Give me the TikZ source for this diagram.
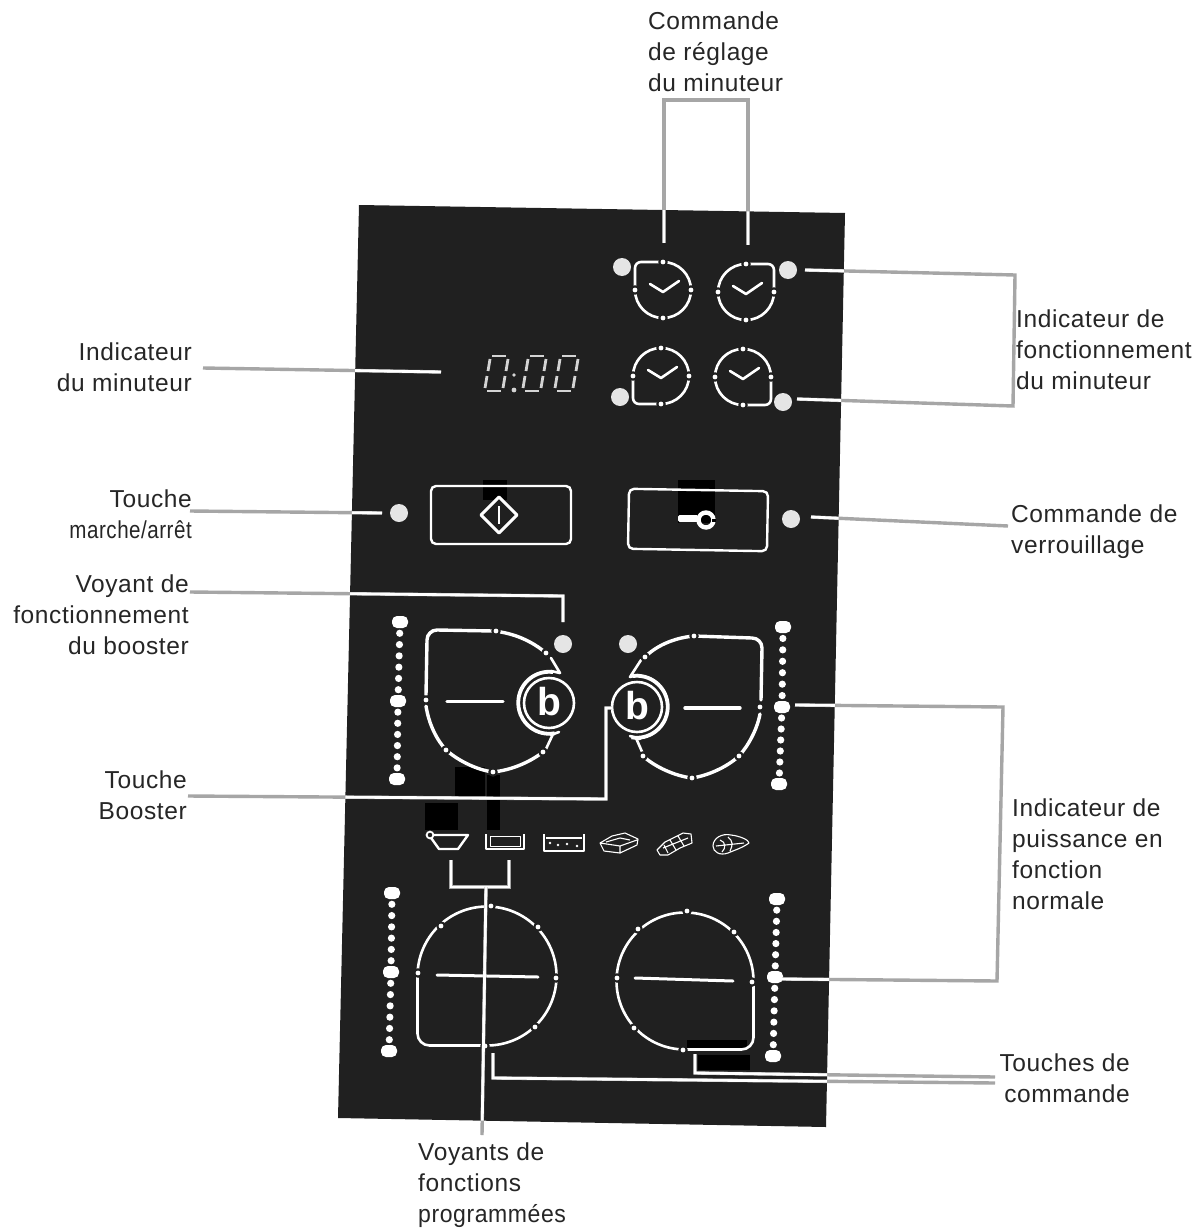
\documentclass[tikz,border=0pt]{standalone}
\usepackage{fontspec}
\setmainfont[LetterSpace=2.5]{Liberation Sans}
\usetikzlibrary{calc}
\definecolor{panelc}{HTML}{202020}
\definecolor{leadc}{HTML}{A6A6A6}
\definecolor{segc}{HTML}{D4D4D4}
\tikzset{
  leadg/.style={draw=leadc,line width=3.4pt},
  leadw/.style={draw=white,line width=2.8pt},
  ring/.style={draw=white,line width=2.6pt,line cap=round,line join=round},
  ringb/.style={draw=white,line width=3.4pt,line cap=round,line join=round},
  fine/.style={draw=white,line width=1.1pt,line join=round},
  seg/.style={draw=segc,line width=2.8pt},
  lamp/.style={circle,fill=white!90!black,draw=none,minimum size=18pt,inner sep=0pt},
  lab/.style={font=\fontsize{24.5}{31}\selectfont,inner sep=0pt,text=black!85},
  labL/.style={lab,align=left,anchor=north west},
  labR/.style={lab,align=right,anchor=north east},
}
\newcommand\panelpath{(359,205) -- (845,213) -- (826,1127) -- (338,1118) -- cycle}
\newcommand\leader[1]{\draw[leadg] #1; \begin{scope}\clip \panelpath; \draw[leadw] #1; \end{scope}}
\newcommand\tick[2]{\fill[panelc] (#1,#2) circle[radius=4.8]; \fill[white] (#1,#2) circle[radius=2.4];}
% corner zone: centre, R, corner radius, xscale, yscale (corner is at top-left locally)
\newcommand\zone[6]{\begin{scope}[shift={(#1,#2)},xscale=#5,yscale=#6]
  \draw[ring] (0,-#3) arc[start angle=270,end angle=540,radius=#3] -- (-#3,-#3+#4) arc[start angle=180,end angle=270,radius=#4] -- cycle;
\end{scope}}
\newcommand\dial[4]{\zone{#1}{#2}{28}{6}{#3}{#4}
  \tick{#1}{#2-28*#4}\tick{#1}{#2+28*#4}\tick{#1-28}{#2}\tick{#1+28}{#2}
  \draw[ring] (#1-13,#2-6) -- (#1,#2+2) -- (#1+16,#2-9);}
\newcommand\slider[6]{
  \coordinate (sa) at (#1,#2); \coordinate (sb) at (#3,#4); \coordinate (sc) at (#5,#6);
  \foreach \i in {1,...,6}{\fill[white] ($(sa)!\i/7!(sb)$) circle[radius=3.6]; \fill[white] ($(sb)!\i/7!(sc)$) circle[radius=3.6];}
  \foreach \p in {sa,sb,sc}{\fill[white,rounded corners=5pt] ($(\p)+(-8,-6)$) rectangle ($(\p)+(8,6)$);}
}
\newcommand\digit[1]{
  \draw[seg] (#1+5,359) -- (#1+3,371);
  \draw[seg] (#1+2,376) -- (#1,388);
  \draw[seg] (#1+7,356) -- (#1+21,356);
  \draw[seg] (#1+2,391) -- (#1+16,391);
  \draw[seg] (#1+23,359) -- (#1+21,371);
  \draw[seg] (#1+20,376) -- (#1+18,388);
}
\begin{document}
\begin{tikzpicture}[x=1pt,y=-1pt]
\useasboundingbox (0,0) rectangle (1193,1231);
\fill[white] (0,0) rectangle (1193,1231);
% panel
\fill[panelc] \panelpath;
% darker patches
\fill[black] (455,767) rectangle (485,797);
\fill[black] (425,803) rectangle (458,830);
\fill[black] (487,775) rectangle (500,830);
\fill[black] (678,480) rectangle (715,523);
\fill[black] (483,480) rectangle (507,500);
\fill[black] (687,1040) rectangle (747,1048);
\fill[black] (698,1055) rectangle (750,1070);

% labels
\node[labL] (lregl) at (648,12) {Commande\\de réglage\\du minuteur};
\node[labR] (lmin) at (192,343) {Indicateur\\du minuteur};
\node[labL] (lfct) at (1016,310) {Indicateur de\\fonctionnement\\du minuteur};
\node[labR] (lmarche) at (192,490) {Touche\hspace{6pt}\\\scalebox{.84}[1]{marche/arrêt}};
\node[labL] (lverr) at (1011,505) {Commande de\\verrouillage};
\node[labR] (lvoy) at (189,575) {Voyant de\\fonctionnement\\du booster};
\node[labR] (lboo) at (187,771) {Touche\\Booster};
\node[labL] (lpui) at (1012,799) {Indicateur de\\puissance en\\fonction\\normale};
\node[labR] (ltou) at (1130,1054) {Touches de\\commande};
\node[labL] (lprg) at (418,1143) {Voyants de\\fonctions\\\scalebox{.94}[1]{programmées}};

% lamps
\node[lamp] (d1) at (622,267) {};
\node[lamp] (d2) at (788,270) {};
\node[lamp] (d3) at (620,397) {};
\node[lamp] (d4) at (783,402) {};
\node[lamp] (d5) at (399,513) {};
\node[lamp] (d6) at (791,519) {};
\node[lamp] (d7) at (563,644) {};
\node[lamp] (d8) at (628,644) {};

% timer dials
\dial{663}{290}{1}{1}
\dial{746}{292}{-1}{1}
\dial{661}{376}{1}{-1}
\dial{743}{377}{-1}{-1}

% display 0:00
\digit{485}
\fill[segc] (514,375) circle[radius=1.8];
\fill[segc] (514,390) circle[radius=2.4];
\digit{523}
\digit{555}

% buttons
\node[draw=white,line width=2.4pt,rounded corners=5pt,minimum width=140pt,minimum height=58pt,inner sep=0pt] (bon) at (501,515) {};
\node[draw=white,line width=2.4pt,rounded corners=5pt,minimum width=139pt,minimum height=60pt,inner sep=0pt,rotate=-1] (bkey) at (698,520) {};
\draw[ring,line width=3pt] (499,497) -- (517,515) -- (499,533) -- (481,515) -- cycle;
\draw[draw=white,line width=2pt] (499,506) -- (499,524);
\fill[white,rounded corners=1.5pt] (678,515) rectangle (698,522);
\draw[draw=white,line width=4.4pt] (706,520) circle[radius=7.5];
\fill[black] (712,518.5) rectangle (716,521.5);

% booster zones, left
\draw[ringb] (426,695) -- (427,640) arc[start angle=180,end angle=270,radius=10] -- (493,631)
  .. controls (515,633) and (533,642) .. (546,653);
\draw[ringb] (426,706) .. controls (429,725) and (437,740) .. (446,750)
  .. controls (460,762) and (478,770) .. (493,772) .. controls (512,770) and (530,762) .. (543,752);
\fill[panelc] (549,703) circle[radius=35];
\draw[ring] (549,703) circle[radius=25];
\draw[white,line width=3.8pt] (553,672) arc[start angle=277,end angle=80,radius=31];
\draw[ring] (551,658) -- (560,673) -- (551,671);
\draw[ring] (559,732) -- (551,735) (553,734) -- (546,749);
\node[font=\fontsize{39}{39}\selectfont\bfseries,text=white,inner sep=0pt] (bl) at (549,702) {b};
\tick{426}{700}\tick{496}{631}\tick{546}{653}\tick{446}{750}\tick{493}{772}\tick{543}{752}
\draw[ringb] (447,701.5) -- (503,701.5);

% booster zones, right
\draw[ringb] (761,700) -- (762,648) arc[start angle=0,end angle=-90,radius=10] -- (694,636)
  .. controls (672,638) and (655,647) .. (645,657);
\draw[ringb] (760,714) .. controls (757,730) and (748,746) .. (739,756)
  .. controls (726,768) and (706,776) .. (692,778) .. controls (675,776) and (655,767) .. (643,756);
\fill[panelc] (637,707) circle[radius=35];
\draw[ring] (637,707) circle[radius=25];
\draw[white,line width=3.8pt] (633,676) arc[start angle=-97,end angle=100,radius=31];
\draw[ring] (641,660) -- (630,677) -- (638,675);
\draw[ring] (630,736) -- (640,739) (636,738) -- (643,754);
\node[font=\fontsize{39}{39}\selectfont\bfseries,text=white,inner sep=0pt] (br) at (637,706) {b};
\tick{694}{636}\tick{645}{657}\tick{760}{707}\tick{739}{756}\tick{692}{778}\tick{643}{756}
\draw[ringb] (685,708) -- (740,708);

% sliders
\slider{400}{622}{398}{701}{397}{779}
\slider{783}{627}{782}{707}{779}{784}
\slider{392}{893}{391}{972}{389}{1051}
\slider{777}{899}{775}{977}{773}{1056}

% bottom zones
\zone{487}{976}{69.5}{12}{1}{-1}
\draw[ring,line width=3pt] (437,975) -- (538,977);
\tick{491}{906}\tick{538}{927}\tick{556}{978}\tick{535}{1027}\tick{485}{1046}\tick{418}{973}\tick{441}{926}
\zone{685}{981}{68.5}{12}{-1}{-1}
\draw[ring,line width=3pt] (635,978) -- (733,981);
\tick{687}{911}\tick{638}{929}\tick{734}{932}\tick{752}{982}\tick{617}{978}\tick{634}{1028}\tick{683}{1050}

% icons
\draw[fine,line width=2.4pt] (429,835) -- (468,835) -- (458,849) -- (439,849) -- cycle;
\draw[white,line width=1.8pt,fill=panelc] (430,835) circle[radius=3.4];
\draw[fine,line width=1.6pt] (486,834) -- (486,849) -- (524,849) -- (524,834);
\draw[fine,line width=.7pt] (490,836) rectangle (520,846);
\draw[fine,line width=1.6pt] (544,834) -- (544,851) -- (584,851) -- (584,834) (546,838) -- (582,838);
\foreach \p in {(550,843),(558,845),(567,844),(577,846)}{\fill[white] \p circle[radius=1.4];}
\draw[fine] (600,843) -- (612,836) -- (625,833) -- (638,839) -- (637,845) -- (620,853) -- (604,851) -- cycle (600,843) -- (620,846) -- (637,840) (620,846) -- (620,853) (606,842) -- (620,838) -- (630,840);
\draw[fine] (657,850) -- (665,842) -- (683,833) -- (691,834) -- (692,843) -- (680,848) -- (668,855) -- (660,855) -- cycle (670,840) -- (676,850) (678,836) -- (684,846) (664,845) -- (668,853) (663,848) -- (688,838);
\draw[fine] (713,846) .. controls (713,838) and (722,833) .. (731,835) .. controls (740,836) and (749,840) .. (749,843) .. controls (742,848) and (735,850) .. (728,853) .. controls (720,856) and (713,852) .. (713,846) -- cycle (720,840) .. controls (726,842) and (726,848) .. (722,852) (728,837) .. controls (733,841) and (733,845) .. (730,851) (716,846) -- (744,843);

% leaders
\coordinate (t1) at (664,100); \coordinate (t2) at (748,100);
\coordinate (t1e) at (664,243); \coordinate (t2e) at (748,245);
\leader{(t1e) -- (t1) -- (t2) -- (t2e)}
\coordinate (r1) at (1015,275); \coordinate (r2) at (1013,406);
\leader{([xshift=17pt]d2.center) -- (r1) -- (r2) -- ([xshift=14pt,yshift=3pt]d4.center)}
\coordinate (m1) at (203,368); \coordinate (m2) at (441,372);
\leader{(m1) -- (m2)}
\coordinate (o1) at (190,511);
\leader{(o1) -- ([xshift=-17pt]d5.center)}
\coordinate (k1) at (1008,526);
\leader{([xshift=20pt,yshift=2pt]d6.center) -- (k1)}
\coordinate (v1) at (190,592); \coordinate (v2) at (563,596); \coordinate (v3) at (563,622);
\leader{(v1) -- (v2) -- (v3)}
\coordinate (b1) at (188,796); \coordinate (b2) at (606,799); \coordinate (b3) at (606,708); \coordinate (b4) at (612,708);
\leader{(b1) -- (b2) -- (b3) -- (b4)}
\coordinate (p0) at (795,705); \coordinate (p1) at (1003,707); \coordinate (p2) at (997,981); \coordinate (p3) at (782,979);
\leader{(p0) -- (p1) -- (p2) -- (p3)}
\coordinate (c0) at (695,1054); \coordinate (c1) at (695,1073); \coordinate (c2) at (995,1077);
\leader{(c0) -- (c1) -- (c2)}
\coordinate (e0) at (493,1053); \coordinate (e1) at (493,1078); \coordinate (e2) at (995,1083);
\leader{(e0) -- (e1) -- (e2)}
\coordinate (f0) at (451,860); \coordinate (f1) at (451,887); \coordinate (f2) at (509,887); \coordinate (f3) at (509,860);
\leader{(f0) -- (f1) -- (f2) -- (f3)}
\coordinate (g0) at (486,887); \coordinate (g1) at (482,1135);
\leader{(g0) -- (g1)}
\end{tikzpicture}
\end{document}
